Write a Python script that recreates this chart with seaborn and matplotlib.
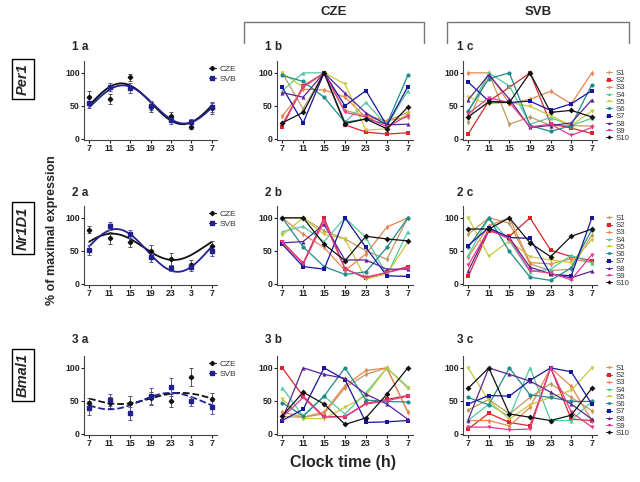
import numpy as np
import pandas as pd
import matplotlib
matplotlib.use("Agg")
import matplotlib.pyplot as plt
import seaborn as sns
from matplotlib.lines import Line2D

sns.set_theme(style="ticks")
plt.rcParams["font.family"] = ["Liberation Sans", "DejaVu Sans"]

# ---------------- data ----------------
clock_labels = ["7", "11", "15", "19", "23", "3", "7"]
clock_hours = [7, 11, 15, 19, 23, 27, 31]
genes = ["Per1", "Nr1D1", "Bmal1"]
groups = ["CZE", "SVB"]
subjects = ["S1", "S2", "S3", "S4", "S5", "S6", "S7", "S8", "S9", "S10"]

# group means (% of maximal expression) and error bars
per1_cze_mean = [63, 60, 93, 48, 34, 18, 46]
per1_cze_err = [10, 8, 5, 8, 6, 4, 8]
per1_svb_mean = [54, 78, 77, 50, 28, 25, 48]
per1_svb_err = [8, 6, 8, 7, 5, 5, 7]
nr1d1_cze_mean = [82, 69, 64, 49, 37, 29, 57]
nr1d1_cze_err = [5, 9, 9, 10, 9, 7, 8]
nr1d1_svb_mean = [51, 87, 76, 40, 24, 26, 50]
nr1d1_svb_err = [8, 6, 6, 7, 4, 6, 8]
bmal1_cze_mean = [46, 47, 46, 54, 50, 86, 52]
bmal1_cze_err = [8, 8, 12, 10, 10, 14, 10]
bmal1_svb_mean = [39, 51, 31, 57, 71, 49, 40]
bmal1_svb_err = [10, 9, 10, 12, 13, 7, 10]

# cosinor curves: mesor, amplitude, acrophase (h)
per1_cze_fit = [53, 31, 13.3]
per1_svb_fit = [52, 29, 13.6]
nr1d1_cze_fit = [56, 20, 11.5]
nr1d1_svb_fit = [50.5, 32.5, 12.3]
bmal1_cze_fit = [53.5, 8.5, 25.0]
bmal1_svb_fit = [49.5, 12.5, 23.0]

# individual profiles (rows = S1..S10)
per1_cze_subj = [
    [100, 45, 100, 43, 35, 27, 40],
    [18, 80, 100, 21, 10, 7, 9],
    [34, 75, 74, 63, 32, 27, 33],
    [73, 100, 100, 25, 55, 20, 73],
    [100, 78, 100, 83, 13, 15, 38],
    [96, 87, 63, 25, 30, 22, 96],
    [78, 24, 100, 50, 73, 20, 79],
    [70, 63, 100, 69, 39, 21, 22],
    [22, 78, 100, 40, 33, 18, 35],
    [24, 40, 100, 23, 30, 15, 48],
]
per1_svb_subj = [
    [25, 100, 22, 33, 20, 20, 19],
    [7, 57, 78, 100, 23, 16, 8],
    [100, 100, 53, 60, 72, 53, 100],
    [40, 100, 80, 22, 32, 20, 31],
    [63, 53, 55, 49, 35, 20, 42],
    [42, 91, 100, 20, 11, 20, 82],
    [86, 57, 55, 57, 43, 53, 73],
    [59, 97, 60, 17, 20, 24, 59],
    [38, 62, 55, 18, 22, 5, 17],
    [33, 56, 55, 100, 40, 43, 33],
]
nr1d1_cze_subj = [
    [100, 100, 80, 68, 50, 37, 100],
    [64, 31, 100, 23, 8, 17, 26],
    [100, 75, 55, 20, 45, 86, 100],
    [79, 87, 64, 100, 70, 13, 79],
    [74, 100, 75, 68, 7, 15, 63],
    [100, 56, 26, 14, 18, 55, 100],
    [60, 26, 22, 100, 55, 12, 11],
    [62, 64, 90, 36, 36, 22, 22],
    [63, 30, 95, 22, 10, 17, 24],
    [100, 100, 60, 35, 72, 68, 65],
]
nr1d1_svb_subj = [
    [75, 100, 92, 30, 20, 22, 74],
    [11, 80, 72, 100, 51, 41, 35],
    [40, 88, 100, 32, 30, 38, 32],
    [43, 100, 65, 18, 22, 43, 32],
    [100, 42, 65, 41, 36, 32, 67],
    [55, 100, 49, 10, 5, 24, 82],
    [58, 85, 70, 69, 14, 12, 100],
    [19, 83, 70, 25, 15, 9, 19],
    [28, 82, 68, 20, 16, 6, 44],
    [83, 83, 100, 62, 41, 72, 83],
]
bmal1_cze_subj = [
    [26, 25, 30, 70, 90, 100, 33],
    [100, 57, 26, 26, 46, 52, 58],
    [33, 25, 33, 73, 96, 100, 33],
    [70, 26, 57, 30, 62, 100, 71],
    [53, 23, 23, 40, 58, 100, 69],
    [47, 27, 57, 100, 51, 49, 48],
    [20, 37, 100, 82, 17, 18, 20],
    [22, 100, 90, 84, 60, 45, 22],
    [25, 55, 25, 26, 45, 50, 57],
    [27, 63, 45, 14, 24, 60, 100],
]
bmal1_svb_subj = [
    [36, 52, 30, 55, 76, 55, 35],
    [7, 31, 17, 12, 100, 22, 20],
    [20, 20, 12, 40, 100, 72, 20],
    [20, 45, 26, 100, 20, 20, 49],
    [100, 50, 22, 44, 55, 66, 100],
    [55, 44, 100, 59, 55, 49, 49],
    [45, 58, 57, 81, 100, 94, 45],
    [21, 100, 90, 80, 63, 45, 22],
    [10, 10, 6, 7, 100, 33, 10],
    [69, 100, 30, 25, 20, 28, 69],
]

# ---------------- styles ----------------
subject_colors = ["#c09a62", "#d8262a", "#e8864e", "#52c9a2", "#c9c93c",
                  "#1f8b8b", "#16169c", "#5c2394", "#e23c8e", "#111111"]
subject_markers = ["d", "s", "d", "^", "v", "o", "s", "^", "v", "D"]
group_colors = {"CZE": "#111111", "SVB": "#22228f"}
group_markers = {"CZE": "D", "SVB": "s"}

W, H = 640, 482
fig = plt.figure(figsize=(6.4, 4.82), dpi=100)


def px_axes(x0, y0, x1, y1):
    return fig.add_axes([x0 / W, 1 - y1 / H, (x1 - x0) / W, (y1 - y0) / H])


def ftext(x, y, s, **kw):
    fig.text(x / W, 1 - y / H, s, **kw)


def style_axes(ax):
    ax.set_xlim(-0.25, 6.25)
    ax.set_ylim(-2, 118)
    ax.set_xticks(range(7))
    ax.set_xticklabels(clock_labels, fontsize=6.3, fontweight="bold")
    ax.set_yticks([0, 50, 100])
    ax.set_yticklabels(["0", "50", "100"], fontsize=6.3, fontweight="bold")
    ax.tick_params(length=2, width=0.8, pad=1, colors="#222222")
    ax.set_xlabel("")
    ax.set_ylabel("")
    sns.despine(ax=ax)
    for sp in ("left", "bottom"):
        ax.spines[sp].set_linewidth(0.8)
        ax.spines[sp].set_color("#444444")


col_x = {"a": (84, 217), "b": (277, 413), "c": (463, 597)}
row_y = [(61, 140), (206, 285), (356, 435)]
title_x = {"a": 72, "b": 265, "c": 457}
title_y = [47, 193, 340]

means = {
    ("Per1", "CZE"): (per1_cze_mean, per1_cze_err, per1_cze_fit),
    ("Per1", "SVB"): (per1_svb_mean, per1_svb_err, per1_svb_fit),
    ("Nr1D1", "CZE"): (nr1d1_cze_mean, nr1d1_cze_err, nr1d1_cze_fit),
    ("Nr1D1", "SVB"): (nr1d1_svb_mean, nr1d1_svb_err, nr1d1_svb_fit),
    ("Bmal1", "CZE"): (bmal1_cze_mean, bmal1_cze_err, bmal1_cze_fit),
    ("Bmal1", "SVB"): (bmal1_svb_mean, bmal1_svb_err, bmal1_svb_fit),
}
indiv = {
    ("Per1", "CZE"): per1_cze_subj, ("Per1", "SVB"): per1_svb_subj,
    ("Nr1D1", "CZE"): nr1d1_cze_subj, ("Nr1D1", "SVB"): nr1d1_svb_subj,
    ("Bmal1", "CZE"): bmal1_cze_subj, ("Bmal1", "SVB"): bmal1_svb_subj,
}

hours_dense = np.linspace(clock_hours[0], clock_hours[-1], 200)
pos_dense = (hours_dense - clock_hours[0]) / 4.0

for r, gene in enumerate(genes):
    y0, y1 = row_y[r]
    # ---- panel a: group means + cosinor curves
    ax = px_axes(col_x["a"][0], y0, col_x["a"][1], y1)
    handles = []
    for g in groups:
        m, e, fit = means[(gene, g)]
        mesor, amp, acro = fit
        curve = mesor + amp * np.cos(2 * np.pi * (hours_dense - acro) / 24.0)
        sns.lineplot(x=pos_dense, y=curve, ax=ax, color=group_colors[g],
                     lw=1.3, linestyle="--" if gene == "Bmal1" else "-")
        ax.errorbar(range(7), m, yerr=e, fmt=group_markers[g], color=group_colors[g],
                    ecolor="#555555" if g == "CZE" else "#5555aa",
                    ms=2.3, capsize=1.2, elinewidth=0.7, capthick=0.7, lw=0)
        handles.append(Line2D([0], [0], color=group_colors[g], marker=group_markers[g],
                              ms=2.2, lw=0.8))
    style_axes(ax)
    leg = ax.legend(handles, groups, loc="center left", bbox_to_anchor=(0.94, 0.84),
                    frameon=False, fontsize=6, handlelength=0.8, handletextpad=0.5,
                    labelspacing=0.25, borderpad=0, borderaxespad=0)
    for t in leg.get_texts():
        t.set_color("#333333")
    ftext(title_x["a"], title_y[r], f"{r + 1} a", fontsize=8.5, fontweight="bold",
          va="center", ha="left")

    # ---- panels b / c: individual subjects
    for col, g in zip(["b", "c"], groups):
        ax = px_axes(col_x[col][0], y0, col_x[col][1], y1)
        rows = []
        for s, vals in zip(subjects, indiv[(gene, g)]):
            for i, v in enumerate(vals):
                rows.append({"time": i, "value": v, "subject": s})
        df = pd.DataFrame(rows)
        sns.lineplot(data=df, x="time", y="value", hue="subject", style="subject",
                     palette=dict(zip(subjects, subject_colors)),
                     markers=dict(zip(subjects, subject_markers)), dashes=False,
                     lw=0.9, markersize=3.0, markeredgewidth=0, legend=False,
                     errorbar=None, ax=ax)
        style_axes(ax)
        ftext(title_x[col], title_y[r], f"{r + 1} {col}", fontsize=8.5,
              fontweight="bold", va="center", ha="left")
        if col == "c":
            sh = [Line2D([0], [0], color=c, marker=mk, ms=2.2, lw=0.7, markeredgewidth=0)
                  for c, mk in zip(subject_colors, subject_markers)]
            lg = ax.legend(sh, subjects, loc="center left", bbox_to_anchor=(1.065, 0.433),
                           frameon=False, fontsize=5.6, handlelength=0.8,
                           handletextpad=0.5, labelspacing=-0.03, borderpad=0,
                           borderaxespad=0)
            for t in lg.get_texts():
                t.set_color("#333333")

    # gene label box
    gene_y = [79, 228, 375][r]
    ftext(23, gene_y, gene, rotation=90, fontsize=10.5, fontweight="bold",
          style="italic", ha="center", va="center",
          bbox=dict(boxstyle="square,pad=0.3", fc="white", ec="black", lw=1.0))

# brackets with group headers
for (xl, xr, label) in [(244, 424, "CZE"), (447, 629, "SVB")]:
    fig.add_artist(Line2D([xl / W, xl / W, xr / W, xr / W],
                          [1 - 43 / H, 1 - 22 / H, 1 - 22 / H, 1 - 43 / H],
                          transform=fig.transFigure, color="#777777", lw=1.0))
    ftext((xl + xr) / 2, 12, label, fontsize=9.5, fontweight="bold",
          ha="center", va="center")

ftext(52, 230, "% of maximal expression", rotation=90, fontsize=9,
      fontweight="bold", ha="center", va="center")
ftext(343, 463, "Clock time (h)", fontsize=11.5, fontweight="bold",
      ha="center", va="center")

fig.savefig("out.png", dpi=100, facecolor="white")
